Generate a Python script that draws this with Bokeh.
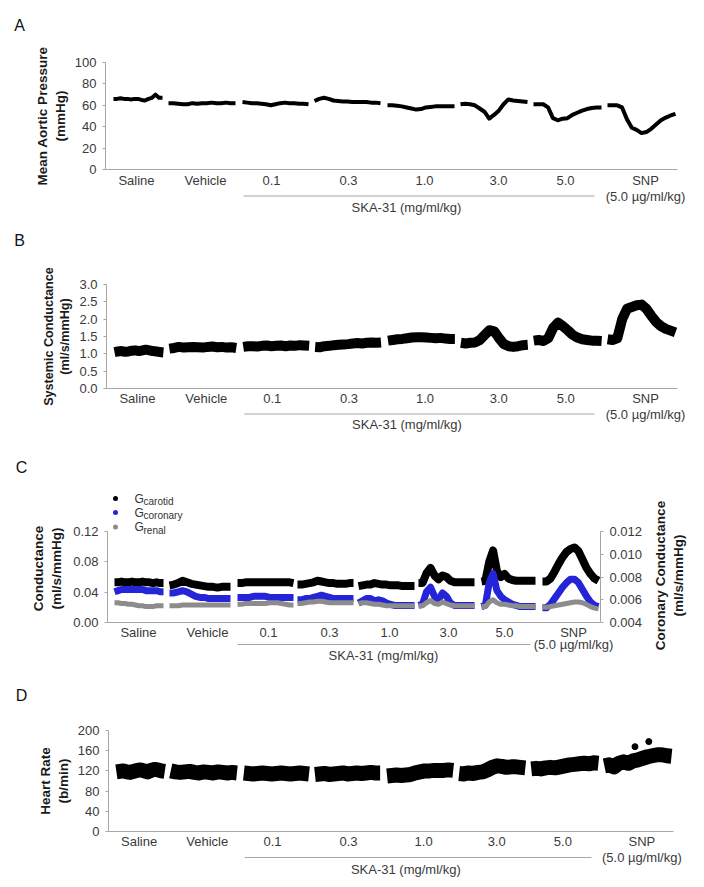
import math
import numpy as np
from bokeh.plotting import figure
from bokeh.models import Range1d, LinearAxis, FixedTicker, Label, PrintfTickFormatter
from bokeh.embed import file_html
from bokeh.resources import INLINE

FONT = "Liberation Sans"
AXIS_COLOR = "#a6a6a6"
TICK_TEXT = "#3a3a3a"
TITLE_COLOR = "#1a1a1a"
BLUE = "#2424d8"
GREY = "#8c8c8c"
W = 690

CONDITIONS = ["Saline", "Vehicle", "0.1", "0.3", "1.0", "3.0", "5.0", "SNP"]
SNP_DOSE = "(5.0 µg/ml/kg)"
SKA_TEXT = "SKA-31 (mg/ml/kg)"
LEGEND_SUBS = ["carotid", "coronary", "renal"]

# recording time (arbitrary units) of each condition segment, panels A, B, D
SEG_START = [8, 63, 137, 209, 282, 355, 428, 502]
SEG_END = [57, 130, 203, 275, 349, 422, 496, 570]
CAT_POS = [31, 100, 166, 243, 319, 393, 460, 540]
SKA_SPAN = (138, 489)
SKA_MID = 301

# panel C time axis
SEG_START_C = [7, 62, 130, 190, 251, 311, 374, 435]
SEG_END_C = [56, 123, 186, 246, 307, 367, 428, 491]
CAT_POS_C = [31, 100, 161, 222, 282, 341, 397, 466]
SKA_SPAN_C = (130, 423)
SKA_MID_C = 276
C_TIME_END = 493

# A: mean aortic pressure (mmHg)
MAP = [
    [66, 66, 66.5, 66, 66, 65.5, 66, 66, 65, 64.5, 66, 67, 70, 67, 67],
    [62, 62, 61.5, 61, 61, 62, 61.5, 62, 62, 62.5, 62, 62, 62.5, 62, 62],
    [63, 62.5, 62, 62, 61.5, 61, 60, 61, 62, 62.5, 62, 62, 61.5, 61.5, 61],
    [64, 66, 67, 66, 64.5, 64, 63.5, 63.5, 63, 63, 63, 63, 62.5, 62.5, 62],
    [60, 60, 59.5, 59, 58, 57, 56, 56.5, 58, 58.5, 59, 59, 59, 59, 59],
    [61, 61.5, 61, 60, 57, 54, 47.5, 51, 55, 61, 65.5, 64.5, 64, 63.5, 63],
    [61, 61, 61, 58, 48, 46, 47.5, 48, 51, 53, 55, 56.5, 57.5, 58, 58],
    [60, 60, 60, 58, 47, 39, 37, 34, 35, 38, 42, 46, 48.5, 50.5, 52],
]

# B: systemic conductance (ml/s/mmHg)
SC = [
    [1.05, 1.07, 1.08, 1.06, 1.07, 1.09, 1.10, 1.08, 1.10, 1.12, 1.10, 1.08, 1.07, 1.05, 1.04],
    [1.15, 1.17, 1.20, 1.18, 1.19, 1.20, 1.19, 1.18, 1.20, 1.21, 1.19, 1.20, 1.18, 1.19, 1.17],
    [1.20, 1.22, 1.22, 1.21, 1.23, 1.24, 1.22, 1.23, 1.24, 1.22, 1.24, 1.23, 1.25, 1.24, 1.23],
    [1.20, 1.19, 1.22, 1.23, 1.25, 1.26, 1.27, 1.28, 1.30, 1.31, 1.30, 1.32, 1.33, 1.32, 1.33],
    [1.38, 1.40, 1.42, 1.43, 1.45, 1.47, 1.48, 1.48, 1.47, 1.46, 1.45, 1.46, 1.44, 1.43, 1.43],
    [1.32, 1.30, 1.32, 1.33, 1.40, 1.55, 1.68, 1.65, 1.45, 1.28, 1.22, 1.20, 1.22, 1.25, 1.26],
    [1.38, 1.40, 1.37, 1.45, 1.75, 1.90, 1.80, 1.68, 1.55, 1.47, 1.42, 1.40, 1.38, 1.38, 1.37],
    [1.42, 1.40, 1.45, 2.00, 2.30, 2.35, 2.40, 2.42, 2.30, 2.10, 1.92, 1.80, 1.72, 1.67, 1.62],
]

# C: carotid and renal conductance (ml/s/mmHg, left axis)
G_CAROTID = [
    [0.053, 0.053, 0.054, 0.053, 0.053, 0.054, 0.053, 0.053, 0.054, 0.053, 0.053, 0.052, 0.053, 0.052, 0.052],
    [0.049, 0.050, 0.052, 0.055, 0.053, 0.051, 0.050, 0.049, 0.048, 0.047, 0.047, 0.046, 0.047, 0.047, 0.047],
    [0.052, 0.052, 0.053, 0.053, 0.053, 0.053, 0.053, 0.053, 0.053, 0.053, 0.053, 0.053, 0.053, 0.053, 0.052],
    [0.050, 0.050, 0.051, 0.052, 0.053, 0.055, 0.054, 0.053, 0.052, 0.052, 0.051, 0.051, 0.051, 0.052, 0.052],
    [0.048, 0.049, 0.050, 0.050, 0.052, 0.051, 0.050, 0.050, 0.049, 0.049, 0.049, 0.048, 0.048, 0.048, 0.048],
    [0.052, 0.052, 0.065, 0.072, 0.062, 0.057, 0.062, 0.060, 0.055, 0.053, 0.053, 0.053, 0.053, 0.053, 0.053],
    [0.054, 0.055, 0.080, 0.095, 0.068, 0.060, 0.064, 0.058, 0.056, 0.055, 0.055, 0.055, 0.055, 0.055, 0.055],
    [0.054, 0.054, 0.058, 0.067, 0.077, 0.086, 0.093, 0.097, 0.099, 0.094, 0.083, 0.072, 0.064, 0.058, 0.055],
]
G_RENAL = [
    [0.026, 0.026, 0.025, 0.025, 0.024, 0.024, 0.023, 0.022, 0.022, 0.021, 0.021, 0.021, 0.022, 0.022, 0.022],
    [0.022, 0.022, 0.022, 0.023, 0.023, 0.023, 0.023, 0.023, 0.023, 0.023, 0.023, 0.023, 0.023, 0.023, 0.023],
    [0.024, 0.024, 0.025, 0.025, 0.025, 0.025, 0.025, 0.025, 0.026, 0.026, 0.026, 0.025, 0.024, 0.023, 0.023],
    [0.025, 0.025, 0.026, 0.027, 0.027, 0.028, 0.028, 0.027, 0.026, 0.026, 0.026, 0.026, 0.026, 0.026, 0.026],
    [0.025, 0.026, 0.026, 0.025, 0.024, 0.024, 0.023, 0.022, 0.022, 0.022, 0.022, 0.022, 0.022, 0.022, 0.022],
    [0.022, 0.022, 0.026, 0.029, 0.025, 0.024, 0.027, 0.025, 0.023, 0.022, 0.022, 0.022, 0.022, 0.022, 0.022],
    [0.021, 0.021, 0.027, 0.030, 0.026, 0.024, 0.024, 0.023, 0.022, 0.022, 0.021, 0.021, 0.021, 0.021, 0.021],
    [0.020, 0.020, 0.021, 0.022, 0.023, 0.024, 0.025, 0.026, 0.027, 0.027, 0.026, 0.024, 0.021, 0.019, 0.018],
]
# C: coronary conductance (ml/s/mmHg, right axis)
G_CORONARY = [
    [0.0067, 0.0068, 0.0069, 0.0069, 0.0069, 0.0069, 0.0069, 0.0069, 0.0069, 0.0068, 0.0068, 0.0068, 0.0068, 0.0067, 0.0067],
    [0.0066, 0.0066, 0.0067, 0.0068, 0.0067, 0.0065, 0.0063, 0.0062, 0.0062, 0.0061, 0.0061, 0.0061, 0.0061, 0.0061, 0.0061],
    [0.0062, 0.0062, 0.0062, 0.0062, 0.0063, 0.0063, 0.0063, 0.0063, 0.0062, 0.0062, 0.0062, 0.0062, 0.0062, 0.0062, 0.0062],
    [0.0060, 0.0060, 0.0061, 0.0061, 0.0062, 0.0063, 0.0064, 0.0063, 0.0062, 0.0061, 0.0061, 0.0061, 0.0061, 0.0061, 0.0061],
    [0.0057, 0.0059, 0.0061, 0.0061, 0.0059, 0.0060, 0.0059, 0.0057, 0.0056, 0.0055, 0.0055, 0.0055, 0.0055, 0.0055, 0.0055],
    [0.0055, 0.0056, 0.0067, 0.0071, 0.0063, 0.0060, 0.0066, 0.0063, 0.0057, 0.0055, 0.0055, 0.0055, 0.0055, 0.0055, 0.0055],
    [0.0054, 0.0055, 0.0075, 0.0083, 0.0068, 0.0063, 0.0060, 0.0058, 0.0056, 0.0055, 0.0054, 0.0054, 0.0054, 0.0054, 0.0054],
    [0.0053, 0.0053, 0.0056, 0.0061, 0.0066, 0.0071, 0.0075, 0.0078, 0.0078, 0.0075, 0.0069, 0.0063, 0.0058, 0.0055, 0.0054],
]

# D: heart rate (b/min)
HR = [
    [118, 119, 120, 118, 117, 119, 121, 122, 120, 118, 121, 123, 122, 120, 119],
    [120, 118, 117, 118, 119, 117, 116, 118, 117, 116, 118, 117, 116, 117, 116],
    [116, 115, 114, 115, 116, 115, 114, 115, 116, 115, 114, 115, 116, 115, 114],
    [113, 114, 115, 113, 114, 115, 116, 114, 115, 116, 115, 116, 117, 116, 116],
    [110, 111, 112, 111, 112, 113, 116, 118, 120, 120, 121, 121, 121, 122, 121],
    [115, 114, 116, 115, 117, 118, 122, 127, 130, 129, 127, 128, 128, 127, 126],
    [124, 125, 124, 126, 127, 126, 128, 130, 132, 133, 134, 135, 134, 136, 135],
    [130, 132, 128, 135, 138, 135, 140, 142, 145, 148, 150, 152, 152, 150, 149],
]
HR_OUTLIER_T = [533, 547]
HR_OUTLIER = [168, 178]


def seg_xy(starts, ends, series):
    xs, ys = [], []
    for s, e, vals in zip(starts, ends, series):
        xs.append(list(np.linspace(s, e, len(vals))))
        ys.append(list(vals))
    return xs, ys


class Geo:
    """page-pixel geometry of a figure's frame and its data ranges"""
    def __init__(self, left, right, ftop, fbottom, xr, yr):
        self.left, self.right, self.ftop, self.fbottom = left, right, ftop, fbottom
        self.xr, self.yr = xr, yr

    def x(self, px):
        return self.xr[0] + (px - self.left) * (self.xr[1] - self.xr[0]) / (self.right - self.left)

    def y(self, py):
        return self.yr[0] + (self.fbottom - py) * (self.yr[1] - self.yr[0]) / (self.fbottom - self.ftop)


def add_label(p, x, y, text, size="13px", color=TICK_TEXT, align="center", baseline="middle",
              style="normal", angle=0.0):
    p.add_layout(Label(x=x, y=y, text=text, text_font=FONT, text_font_size=size,
                       text_color=color, text_align=align, text_baseline=baseline,
                       text_font_style=style, angle=angle))


def style_axis(ax, title_size="13.5px"):
    ax.axis_line_color = AXIS_COLOR
    ax.major_tick_line_color = AXIS_COLOR
    ax.major_tick_out = 3
    ax.major_tick_in = 0
    ax.minor_tick_line_color = None
    ax.major_label_text_font = FONT
    ax.major_label_text_font_size = "13px"
    ax.major_label_text_color = TICK_TEXT
    ax.major_label_standoff = 6
    ax.axis_label_text_font = FONT
    ax.axis_label_text_font_size = title_size
    ax.axis_label_text_font_style = "bold"
    ax.axis_label_text_color = TITLE_COLOR
    ax.axis_label_standoff = 4


def main_fig(band, g, ylabel, yticks, yfmt, cat_pos, xstandoff, title_size="13.5px"):
    top, bottom = band
    p = figure(width=W, height=bottom - top, x_range=Range1d(*g.xr), y_range=Range1d(*g.yr),
               output_backend="svg", toolbar_location=None,
               min_border_left=g.left, min_border_right=W - g.right,
               min_border_top=g.ftop - top, min_border_bottom=bottom - g.fbottom)
    p.outline_line_color = None
    p.xgrid.visible = False
    p.ygrid.visible = False
    yax = p.yaxis[0]
    style_axis(yax, title_size)
    yax.ticker = FixedTicker(ticks=yticks)
    if yfmt:
        yax.formatter = PrintfTickFormatter(format=yfmt)
    yax.axis_label = ylabel
    xax = p.xaxis[0]
    style_axis(xax)
    xax.ticker = FixedTicker(ticks=cat_pos)
    xax.major_label_overrides = {c: n for c, n in zip(cat_pos, CONDITIONS)}
    xax.major_tick_line_color = None
    xax.major_tick_out = 0
    xax.major_label_standoff = xstandoff
    return p


def strip(band, g):
    """a text strip between panels, with x in the data units of panel g"""
    top, bottom = band
    p = figure(width=W, height=bottom - top, x_range=Range1d(g.x(0), g.x(W)),
               y_range=Range1d(bottom, top), x_axis_type=None, y_axis_type=None,
               output_backend="svg", toolbar_location=None,
               min_border_left=0, min_border_right=0, min_border_top=0, min_border_bottom=0)
    p.outline_line_color = None
    p.grid.visible = False
    return p


def footer(s, ydata, snp_pos, ska_span, ska_mid, line_y, text_y):
    s.segment(x0=[ska_span[0]], y0=[ydata(line_y)], x1=[ska_span[1]], y1=[ydata(line_y)],
              line_color=AXIS_COLOR, line_width=1)
    add_label(s, snp_pos, ydata(line_y), SNP_DOSE)
    add_label(s, ska_mid, ydata(text_y), SKA_TEXT)


def letter(s, g, px, py, text):
    add_label(s, g.x(px), py, text, size="16px", color="#111111")


def same(py):
    return py


# ---------------- geometry ----------------
gA = Geo(105, 677, 62, 172, (0, 572), (0, 100))
gB = Geo(106, 677, 284, 390, (0, 572), (0, 3))
# panel C: the frame covers the whole band; its axes sit at fixed data locations
C_AX_L, C_AX_R = 107, 600
C_TOP, C_012, C_BOT, C_END = 484, 531, 622, 668
c_k = C_TIME_END / (C_AX_R - C_AX_L)


def c_left(py):
    return 0.12 * (C_BOT - py) / (C_BOT - C_012)


def c_right(py):
    return 0.004 + 0.008 * (C_BOT - py) / (C_BOT - C_012)


gC = Geo(0, W, C_TOP, C_END, (-C_AX_L * c_k, (W - C_AX_L) * c_k), (c_left(C_END), c_left(C_TOP)))
COR_RANGE = (c_right(C_END), c_right(C_TOP))
gD = Geo(108, 673, 730, 834, (0, 572), (0, 200))

# ---------------- A ----------------
s0 = strip((0, 42), gA)
letter(s0, gA, 19, 24.5, "A")

pA = main_fig((42, 190), gA, "Mean Aortic Pressure\n(mmHg)", [0, 20, 40, 60, 80, 100], None,
              CAT_POS, 3)
xs, ys = seg_xy(SEG_START, SEG_END, MAP)
pA.multi_line(xs, ys, line_color="black", line_width=4, line_join="round")

s1 = strip((190, 258), gA)
footer(s1, same, CAT_POS[-1], SKA_SPAN, SKA_MID, 195.5, 206.5)
letter(s1, gA, 19, 240, "B")

# ---------------- B ----------------
pB = main_fig((258, 408), gB, "Systemic Conductance\n(ml/s/mmHg)",
              [0, 0.5, 1.0, 1.5, 2.0, 2.5, 3.0], "%.1f", CAT_POS, 2, title_size="12.6px")
xs, ys = seg_xy(SEG_START, SEG_END, SC)
pB.multi_line(xs, ys, line_color="black", line_width=10, line_join="round")

s2 = strip((408, 484), gB)
footer(s2, same, CAT_POS[-1], SKA_SPAN, SKA_MID, 413.5, 424)
letter(s2, gB, 21, 467, "C")

# ---------------- C ----------------
pC = main_fig((C_TOP, C_END), gC, None, [0, 0.04, 0.08, 0.12], "%.2f", CAT_POS_C, 2)
pC.yaxis[0].fixed_location = 0
pC.yaxis[0].bounds = (0, 0.12)
pC.xaxis[0].fixed_location = 0
pC.xaxis[0].bounds = (0, C_TIME_END)
pC.extra_y_ranges = {"cor": Range1d(*COR_RANGE)}
rax = LinearAxis(y_range_name="cor", fixed_location=C_TIME_END,
                 ticker=FixedTicker(ticks=[0.004, 0.006, 0.008, 0.010, 0.012]),
                 formatter=PrintfTickFormatter(format="%.3f"), bounds=(0.004, 0.012))
style_axis(rax)
pC.add_layout(rax, "right")
add_label(pC, gC.x(47), gC.y(568), "Conductance\n(ml/s/mmHg)", size="13.5px",
          color=TITLE_COLOR, style="bold", angle=math.pi / 2)
add_label(pC, gC.x(669), gC.y(575), "Coronary Conductance\n(ml/s/mmHg)", size="13.5px",
          color=TITLE_COLOR, style="bold", angle=math.pi / 2)
xs, ys = seg_xy(SEG_START_C, SEG_END_C, G_CAROTID)
pC.multi_line(xs, ys, line_color="black", line_width=8, line_join="round")
xs, ys = seg_xy(SEG_START_C, SEG_END_C, G_CORONARY)
pC.multi_line(xs, ys, line_color=BLUE, line_width=7, line_join="round", y_range_name="cor")
xs, ys = seg_xy(SEG_START_C, SEG_END_C, G_RENAL)
pC.multi_line(xs, ys, line_color=GREY, line_width=5, line_join="round")
# legend
leg_rows = [498, 512, 526.5]
pC.scatter([gC.x(115)] * 3, [gC.y(r) for r in leg_rows], size=5,
           color=["black", BLUE, GREY], line_color=None)
for r, sub in zip(leg_rows, LEGEND_SUBS):
    add_label(pC, gC.x(134), gC.y(r), "G", size="12px", color="#333333", align="left")
    add_label(pC, gC.x(143), gC.y(r + 3), sub, size="10px", color="#333333", align="left")
footer(pC, gC.y, CAT_POS_C[-1], SKA_SPAN_C, SKA_MID_C, 644, 655)

s3 = strip((C_END, 712), gC)
letter(s3, gC, 21, 694.5, "D")

# ---------------- D ----------------
pD = main_fig((712, 851), gD, "Heart Rate\n(b/min)", [0, 40, 80, 120, 160, 200], None,
              CAT_POS, 2)
xs, ys = seg_xy(SEG_START, SEG_END, HR)
pD.multi_line(xs, ys, line_color="black", line_width=15, line_join="round")
pD.scatter(HR_OUTLIER_T, HR_OUTLIER, size=6, color="black")

s4 = strip((851, 882), gD)
footer(s4, same, CAT_POS[-1], SKA_SPAN, SKA_MID, 857, 868.5)

roots = [s0, pA, s1, pB, s2, pC, s3, pD, s4]
open("out.html", "w").write(file_html(roots, INLINE))
